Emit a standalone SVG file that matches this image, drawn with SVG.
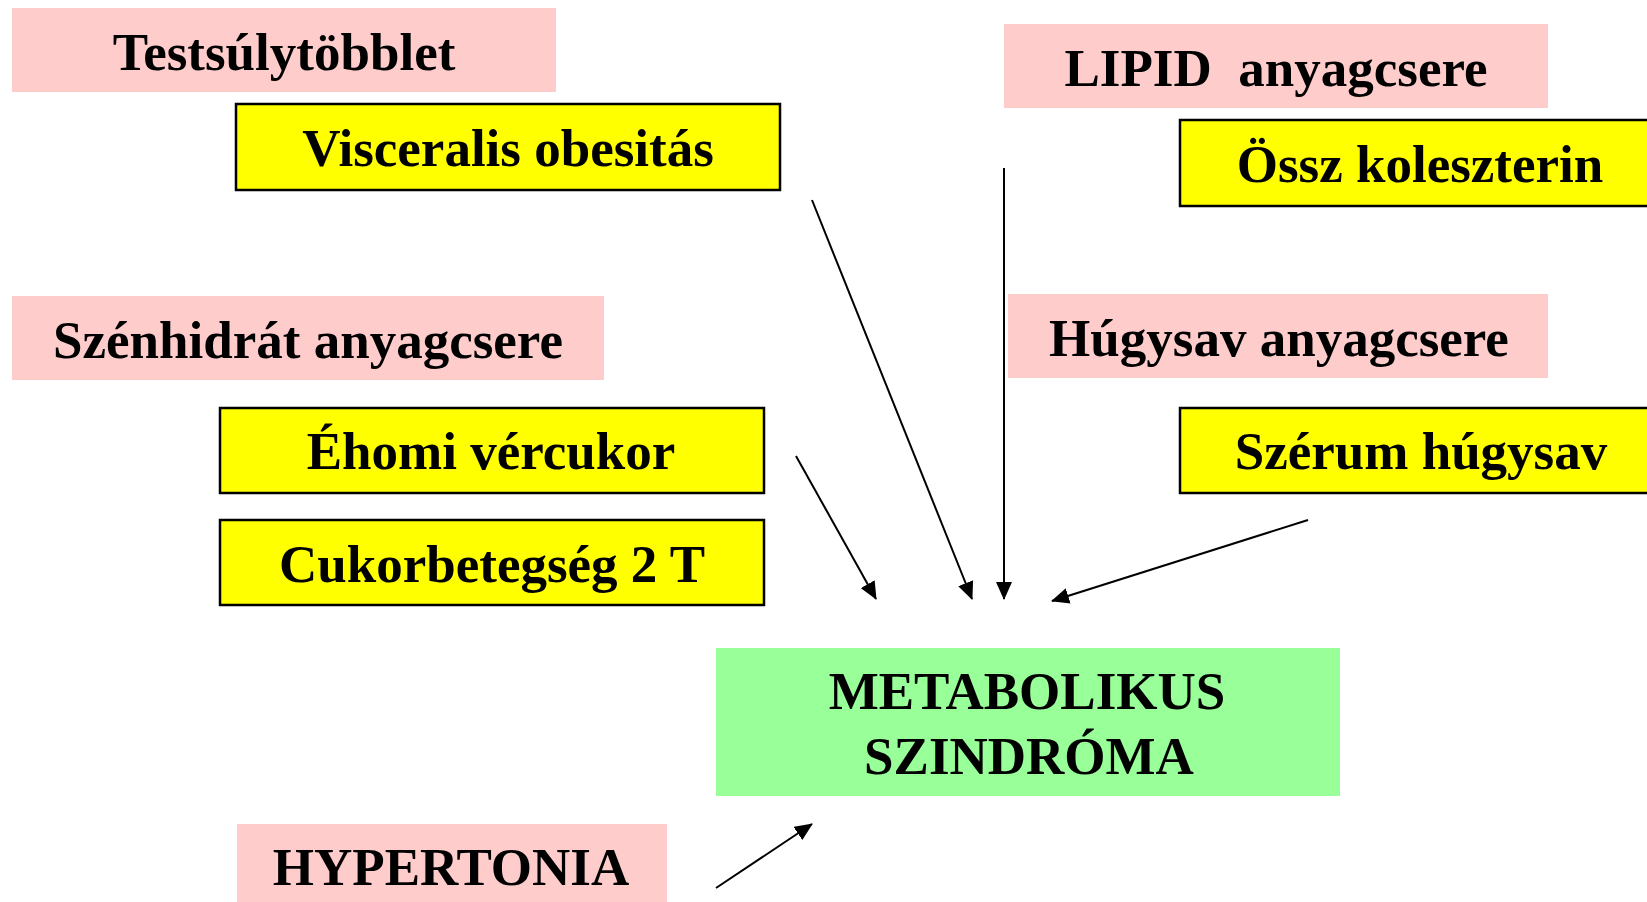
<svg xmlns="http://www.w3.org/2000/svg" width="1647" height="902" viewBox="0 0 1647 902">
<style>
.pink{fill:#FFCCCC}
.yellow{fill:#FFFF00;stroke:#000;stroke-width:2.5}
.green{fill:#99FF99}
.t{font-family:"Liberation Serif","Times New Roman",serif;font-weight:bold;font-size:53px;fill:#000;text-anchor:middle}
.c{stroke:#000;stroke-width:2;fill:none;marker-end:url(#ah)}
</style>
<defs>
<marker id="ah" markerUnits="userSpaceOnUse" markerWidth="18" markerHeight="16" refX="17" refY="8" orient="auto">
<path d="M0,0 L18,8 L0,16 z" fill="#000"/>
</marker>
</defs>
<rect width="1647" height="902" fill="#fff"/>
<g id="testsuly"><rect class="pink" x="12" y="8" width="544" height="84"/><text class="t" x="284" y="70">Testsúlytöbblet</text></g>
<g id="visceralis"><rect class="yellow" x="236" y="104" width="544" height="86"/><text class="t" x="508" y="166">Visceralis obesitás</text></g>
<g id="lipid"><rect class="pink" x="1004" y="24" width="544" height="84"/><text class="t" x="1276" y="86" xml:space="preserve">LIPID  anyagcsere</text></g>
<g id="ossz"><rect class="yellow" x="1180" y="120" width="490" height="86"/><text class="t" x="1420" y="182">Össz koleszterin</text></g>
<g id="szenhidrat"><rect class="pink" x="12" y="296" width="592" height="84"/><text class="t" x="308" y="358">Szénhidrát anyagcsere</text></g>
<g id="hugysav"><rect class="pink" x="1008" y="294" width="540" height="84"/><text class="t" x="1279" y="356">Húgysav anyagcsere</text></g>
<g id="ehomi"><rect class="yellow" x="220" y="408" width="544" height="85"/><text class="t" x="491" y="469">Éhomi vércukor</text></g>
<g id="szerum"><rect class="yellow" x="1180" y="408" width="490" height="85"/><text class="t" x="1421" y="469">Szérum húgysav</text></g>
<g id="cukor"><rect class="yellow" x="220" y="520" width="544" height="85"/><text class="t" x="492" y="582">Cukorbetegség 2 T</text></g>
<g id="metabolikus"><rect class="green" x="716" y="648" width="624" height="148"/><text class="t" x="1027" y="709">METABOLIKUS</text><text class="t" x="1029" y="774">SZINDRÓMA</text></g>
<g id="hypertonia"><rect class="pink" x="237" y="824" width="430" height="78"/><text class="t" x="451" y="885">HYPERTONIA</text></g>
<g id="connectors">
<line class="c" x1="796" y1="456" x2="876" y2="599"/>
<line class="c" x1="812" y1="200" x2="972" y2="599"/>
<line class="c" x1="1004" y1="168" x2="1004" y2="599"/>
<line class="c" x1="1308" y1="520" x2="1052" y2="601"/>
<line class="c" x1="716" y1="888" x2="812" y2="824"/>
</g>
</svg>
